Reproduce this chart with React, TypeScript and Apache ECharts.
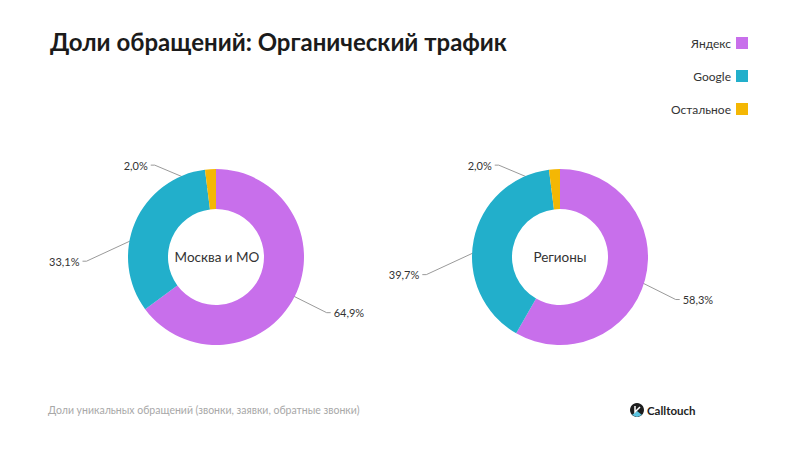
import React, { useEffect, useRef } from "react";
import * as echarts from "echarts";

const titleText = "Доли обращений: Органический трафик";
const footerText = "Доли уникальных обращений (звонки, заявки, обратные звонки)";
const categories = ["Яндекс", "Google", "Остальное"];
const moscowValues = [64.9, 33.1, 2.0];
const regionValues = [58.3, 39.7, 2.0];
const pieNames = ["Москва и МО", "Регионы"];
const colors = ["#C86FEB", "#22AFCB", "#F4B704"];
// label line elbow offsets per category (style)
const labelOffsets: number[][] = [
  [50, 25],
  [-67, 31],
  [-57, -24],
];

const FONT = "Lato";

function fmt(v: number) {
  return v.toFixed(1).replace(".", ",") + "%";
}

function makePie(name: string, values: number[], cx: number) {
  return {
    type: "pie",
    name,
    center: [cx, 257],
    radius: [48, 88],
    startAngle: 90,
    clockwise: true,
    avoidLabelOverlap: false,
    silent: true,
    data: categories.map((c, i) => ({
      name: c,
      value: values[i],
      itemStyle: { color: colors[i] },
    })),
    label: {
      show: true,
      position: "outside",
      formatter: (p: any) => fmt(p.value),
      fontFamily: FONT,
      fontSize: 11,
      color: "#333",
    },
    labelLine: {
      show: true,
      length: 15,
      length2: 5,
      lineStyle: { color: "#9a9a9a", width: 1 },
    },
    labelLayout: (params: any) => {
      const pts = params.labelLinePoints;
      if (!pts) return {};
      const p0 = pts[0];
      const p1 = pts[1];
      const dx = p1[0] - p0[0];
      const dy = p1[1] - p0[1];
      const len = Math.sqrt(dx * dx + dy * dy) || 1;
      const start = [p0[0] - (dx / len) * 20, p0[1] - (dy / len) * 20];
      const off = labelOffsets[params.dataIndex];
      const right = off[0] > 0;
      const elbow = [start[0] + off[0], start[1] + off[1]];
      const end = [elbow[0] + (right ? 4 : -4), elbow[1]];
      return {
        x: end[0] + (right ? 3 : -3),
        y: end[1],
        align: right ? "left" : "right",
        verticalAlign: "middle",
        labelLinePoints: [start, elbow, end],
      };
    },
  };
}

export default function App() {
  const ref = useRef<HTMLDivElement>(null);
  useEffect(() => {
    if (!ref.current) return;
    const chart = echarts.init(ref.current, undefined, { renderer: "svg" });
    chart.setOption({
      animation: false,
      backgroundColor: "#ffffff",
      title: [
        {
          text: titleText,
          left: 50,
          top: 29,
          padding: 0,
          textStyle: { fontFamily: FONT, fontSize: 24, fontWeight: "bold", color: "#1b1b1b" },
        },
        {
          text: pieNames[0],
          left: 217,
          top: 257,
          padding: 0,
          textAlign: "center",
          textVerticalAlign: "middle",
          textStyle: { fontFamily: FONT, fontSize: 13.5, fontWeight: "normal", color: "#333" },
        },
        {
          text: pieNames[1],
          left: 560,
          top: 257,
          padding: 0,
          textAlign: "center",
          textVerticalAlign: "middle",
          textStyle: { fontFamily: FONT, fontSize: 13.5, fontWeight: "normal", color: "#333" },
        },
        {
          text: footerText,
          left: 48,
          top: 404,
          padding: 0,
          textStyle: { fontFamily: FONT, fontSize: 10.5, fontWeight: "normal", color: "#a8a8a8" },
        },
      ],
      legend: {
        orient: "vertical",
        right: 52,
        top: 37,
        padding: 0,
        align: "right",
        itemWidth: 12,
        itemHeight: 12,
        itemGap: 21,
        icon: "rect",
        data: categories,
        selectedMode: false,
        textStyle: { fontFamily: FONT, fontSize: 12, color: "#333" },
      },
      graphic: [
        {
          type: "group",
          left: 630,
          top: 403,
          children: [
            { type: "circle", shape: { cx: 7, cy: 7, r: 7 }, style: { fill: "#1e1e1e" } },
            { type: "polygon", shape: { points: [[2, 12], [7, 8], [12, 12], [7, 14]] }, style: { fill: "#5cc4e0" } },
            { type: "polyline", shape: { points: [[5, 3], [5, 9], [10, 4]] }, style: { stroke: "#fff", lineWidth: 1.5, fill: null } },
            {
              type: "text",
              x: 17,
              y: 7,
              style: {
                text: "Calltouch",
                fontFamily: FONT,
                fontSize: 11.5,
                fontWeight: "bold",
                fill: "#1e1e1e",
                verticalAlign: "middle",
              },
            },
          ],
        },
      ],
      series: [makePie(pieNames[0], moscowValues, 216), makePie(pieNames[1], regionValues, 560)],
    });
    return () => chart.dispose();
  }, []);
  return <div ref={ref} style={{ width: 800, height: 450, position: "absolute", left: 0, top: 0 }} />;
}
